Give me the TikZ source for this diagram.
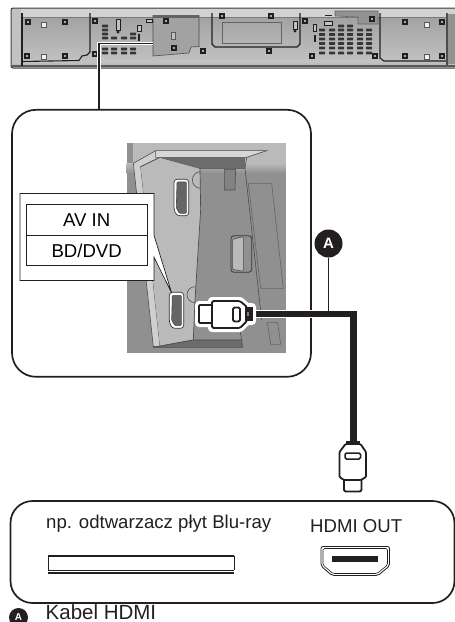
\documentclass[tikz,border=0pt]{standalone}
\usepackage{fontspec}
\setmainfont{Liberation Sans}
\usetikzlibrary{positioning, calc}
\definecolor{barfill}{HTML}{BDBDBD}
\definecolor{barpanel}{HTML}{C2C2C2}
\definecolor{bardark}{HTML}{A2A2A2}
\definecolor{ink}{HTML}{231F20}
\definecolor{photolight}{HTML}{BABABA}
\definecolor{photodark}{HTML}{909090}
\begin{document}
\begin{tikzpicture}[
    x=1pt, y=-1pt,
    frame/.style={rectangle, draw=ink, line width=1.7pt, rounded corners=24pt, fill=white, inner sep=0pt, outer sep=0pt},
    cell/.style={rectangle, draw=ink, line width=0.7pt, fill=white, minimum width=121pt, minimum height=30.4pt, inner sep=0pt, outer sep=0pt, font=\fontsize{18.6pt}{20pt}\selectfont},
    caption/.style={inner sep=0pt, anchor=base west, text=ink, font=\fontsize{18.6pt}{20pt}\selectfont},
    marker/.style={circle, fill=ink, text=white, inner sep=0pt, minimum size=#1, font=\bfseries\fontsize{15pt}{15pt}\selectfont},
    barline/.style={draw=ink, line width=1.1pt},
    screw/.style={draw=ink, line width=1.2pt, fill=gray!65, minimum size=4pt, inner sep=0pt, rectangle},
    whitescrew/.style={draw=ink!75, line width=0.6pt, fill=white!90!gray, minimum size=5.5pt, inner sep=0pt, rectangle},
    vent/.style={rectangle, rounded corners=0.5pt, fill=ink!90, minimum width=6pt, minimum height=2.6pt, inner sep=0pt},
    lead/.style={draw=ink, line width=1.9pt},
    halo/.style={draw=white, line width=3.6pt},
    cable/.style={draw=ink, line width=6.5pt},
    plugbody/.style={draw=ink, line width=1.8pt, fill=white, line join=round},
    plughalo/.style={draw=white, line width=8pt, line join=round}
]
    \useasboundingbox (0,0) rectangle (455,622);
    \clip (0,0) rectangle (455,622);

    % Soundbar
    \node[rectangle, draw=ink!85, line width=1.1pt, rounded corners=2pt, fill=barfill, minimum width=460pt, minimum height=60pt, anchor=north west, inner sep=0pt] (bar) at (10.5,7.5) {};
    \shade[top color=bardark, bottom color=barpanel] (21,17) rectangle (448,62);
    \fill[gray!35] (12,9) rectangle (455,16.5);
    \draw[ink!60, line width=0.4pt] (21,17) -- (455,17);
    \fill[barpanel] (12,9) rectangle (21,64);
    \fill[ink!75] (12,64.5) rectangle (455,67);
    \draw[barline, line width=1.4pt] (22,13) -- (22,66);
    \draw[barline] (90,13) -- (90,52) -- (87,55) -- (82,56) -- (79,60.5) -- (22,61.5);
    \draw[barline] (380,13) -- (380,58) -- (384,61) -- (447,61);
    \draw[ink!80, line width=1.5pt] (447,13) -- (447,65);
    \fill[bardark!90!black] (448,14) rectangle (455,64);
    \draw[ink!80, fill=bardark, line width=0.6pt] (153,15.5) -- (199,15.5) -- (199,46.5) -- (191,47) -- (189,53) -- (153,56) -- cycle;
    \fill[ink!70] (153,15) rectangle (199,18);
    \draw[barline] (212,13) -- (212,44) -- (215,47) -- (297,47) -- (300,44) -- (300,13);
    \draw[ink!70, line width=0.8pt] (222,22) rectangle (281,43);
    \draw[ink!70, fill=bardark!90!black, line width=0.6pt] (335,16) -- (335,11) -- (378,11) -- (378,24) -- (358,24) -- (358,17) -- cycle;
    \foreach \x/\y in {28/22, 65/22, 27/56, 65/56, 95/21, 95/54, 166/21, 174/48, 203/51, 222/16, 271/16, 269/51, 305/21, 312/56, 372/19, 375/56, 405/22, 442/22, 405/56, 442/56}
        \node[screw] (s\x-\y) at (\x,\y) {};
    \foreach \x/\y in {44/25, 44/57, 427/25, 427/57}
        \node[whitescrew] (w\x-\y) at (\x,\y) {};
    \node[whitescrew, minimum width=4pt, minimum height=7pt, fill=barpanel] (midscrew) at (173.5,36) {};
    \foreach \y in {26,30,34,38}
        \node[vent] at (105,\y) {};
    \foreach \x/\y in {114/38, 124/38, 133/38, 133/34, 105/49, 114/49, 124/49, 133/49, 105/53, 114/53, 124/53, 133/53, 341/26, 350/26}
        \node[vent] at (\x,\y) {};
    \foreach \x in {322,332,341,350,360,369}
        \foreach \y in {30,34.5,39,43.5,48,53}
            \node[vent] at (\x,\y) {};
    \draw[ink, line width=0.6pt, fill=barpanel] (116,19) rectangle (120,30);
    \fill[ink] (118,32) circle (1.6pt);
    \draw[ink, line width=0.6pt, fill=barpanel] (137,25) rectangle (141,31);
    \fill[ink] (138,34) rectangle (140,41);
    \draw[ink, line width=0.6pt, fill=barpanel] (293,21) rectangle (297,29);
    \fill[ink] (295,31) circle (1.6pt);
    \draw[ink, line width=0.6pt, fill=barpanel] (313,24) rectangle (316,31);
    \fill[ink] (314,35) rectangle (316,42);
    \draw[ink, line width=0.6pt, fill=barpanel] (146,19) rectangle (152,22);
    \draw[ink, line width=0.6pt, fill=barpanel] (324,21) rectangle (332,25);
    \draw[ink, line width=0.6pt] (325,15) -- (332,15);

    % Enlarged view with the inputs
    \node[frame, minimum width=299pt, minimum height=267pt, anchor=north west] (zoombox) at (12,109.8) {};
    \coordinate (barport) at (153,43.5);
    \coordinate (tap) at (99,43.5);
    \draw[halo] (barport) -- (tap) -- (tap |- bar.south);
    \draw[lead] (barport) -- (tap) -- (tap |- zoombox.north);

    \node[rectangle, fill=photodark, minimum width=159pt, minimum height=210pt, anchor=north west, inner sep=0pt] (photo) at (127,143) {};
    \begin{scope}[shift={(110,120)}, x=0.3333pt, y=-0.3333pt]
        \shade[top color=photolight, bottom color=photodark] (50,130) rectangle (528,160);
        \fill[photolight] (50,68) rectangle (528,130);
        \fill[photodark] (50,68) rectangle (70,130);
        \draw[ink!80, fill=photolight!70!white, line width=0.6pt] (70,130) -- (137,92) -- (150,112) -- (92,140) -- (150,680) -- (130,680) -- cycle;
        \fill[photolight] (92,140) -- (150,112) -- (270,145) -- (272,270) -- (255,540) -- (250,660) -- (150,680) -- cycle;
        \draw[ink!80, line width=0.7pt] (92,140) -- (150,112) -- (270,145) -- (272,270) -- (255,540) -- (250,660) -- (130,682);
        \fill[photodark!75!black] (270,145) -- (150,112) -- (405,112) -- (405,145) -- cycle;
        \draw[ink!80, fill=photolight!60!white, line width=0.6pt] (137,92) -- (470,92) -- (410,112) -- (137,112) -- cycle;
        \draw[ink!80, line width=0.6pt] (410,112) -- (405,145) -- (270,145);
        \draw[ink!80, line width=0.6pt] (405,145) -- (455,600);
        \draw[ink!80, fill=photodark!75!black, line width=0.6pt] (130,682) -- (250,660) -- (395,660) -- (398,682) -- cycle;
        \draw[ink!80, line width=0.6pt] (395,660) -- (388,620);
        \draw[ink!80, fill=photodark!90!black, line width=0.6pt] (343,148) -- (377,148) -- (375,210) -- (343,210) -- cycle;
        \draw[ink!70, line width=0.6pt] (415,190) -- (485,190) -- (520,505) -- (452,505) -- cycle;
        \draw[ink!70, line width=0.6pt] (472,607) -- (503,607) -- (512,673) -- (482,673) -- cycle;
        \draw[ink!80, line width=0.6pt] (272,205) arc[start angle=90, end angle=270, radius=25];
        \draw[ink!80, line width=0.6pt] (255,548) arc[start angle=90, end angle=270, radius=24];
        % Ports
        \draw[ink!90, fill=white, line width=0.7pt, rounded corners=3pt] (192,178) -- (236,178) -- (236,287) -- (200,287) -- (192,270) -- cycle;
        \draw[ink!80, fill=photodark!70!black, line width=0.6pt, rounded corners=1pt] (201,186) -- (229,186) -- (229,280) -- (208,280) -- (199,264) -- cycle;
        \draw[ink!90, fill=white, line width=0.7pt, rounded corners=3pt] (178,517) -- (221,517) -- (221,625) -- (186,625) -- (178,608) -- cycle;
        \draw[ink!80, fill=photodark!70!black, line width=0.6pt, rounded corners=1pt] (187,526) -- (214,526) -- (214,617) -- (195,617) -- (185,601) -- cycle;
        \draw[ink!90, fill=photodark, line width=0.8pt, rounded corners=3pt] (363,347) -- (425,347) -- (425,457) -- (363,457) -- cycle;
        \draw[ink!80, fill=photolight, line width=0.6pt, rounded corners=1pt] (368,358) -- (400,350) -- (400,454) -- (368,448) -- cycle;
    \end{scope}

    % Labels
    \node[rectangle, fill=white, minimum width=133.5pt, minimum height=86.5pt, anchor=north west, inner sep=0pt] (labelbox) at (20,193.5) {};
    \coordinate (pointertop) at (labelbox.east |- 0,235);
    \coordinate (pointerlow) at (labelbox.east |- 0,257);
    \coordinate (lowerport) at (171.7,293);
    \fill[white] (pointertop) -- (lowerport) -- (pointerlow) -- cycle;
    \draw[ink, line width=0.7pt] (pointertop) -- (labelbox.north east) -- (labelbox.north west) -- (labelbox.south west) -- (labelbox.south east) -- (pointerlow) -- (lowerport) -- (pointertop);
    \node[cell] (avin) at (86.7,220) {AV IN};
    \node[cell, below=0pt of avin] (bddvd) {BD/DVD};

    % HDMI lead, with its plugs
    \node[marker=28pt] (markA) at (328.5,243.5) {A};
    \coordinate (bend) at (353.5,314);
    \coordinate (vneck) at (353.5,443);
    \coordinate (hneck) at (247,314);
    \draw[draw=white, line width=8.5pt] (hneck) -- (bend) -- (vneck);
    \draw[cable] (hneck) -- (bend) -- (vneck);
    \draw[ink, line width=0.8pt] (markA) -- (markA |- bend);
    % Horizontal plug
    \draw[plughalo] (199,305) -- (211,305) -- (212,301) -- (240,301) -- (247,307) -- (252,307) -- (252,321) -- (247,321) -- (240,328) -- (212,328) -- (211,323) -- (199,323) -- cycle;
    \draw[plugbody, rounded corners=1pt] (211,305) -- (199,305) -- (199,323) -- (211,323);
    \draw[plugbody, rounded corners=1.5pt] (212,301) -- (240,301) -- (247,307) -- (247,321) -- (240,328) -- (212,328) -- cycle;
    \draw[plugbody, rounded corners=1.5pt] (233,307.5) rectangle (240,321.5);
    \fill[ink] (245,307) rectangle (253,321);
    \fill[gray] (246.5,312) rectangle (249,316);
    % Vertical plug
    \draw[plugbody, rounded corners=1.5pt] (344,480) -- (344,491.5) -- (361.5,491.5) -- (361.5,480);
    \node[rectangle, fill=ink, minimum width=14pt, minimum height=4pt, inner sep=0pt] (vtop) at (353,443) {};
    \draw[plugbody, rounded corners=1pt] (345.5,444) -- (360.5,444) -- (366,452) -- (366,477) -- (361,480) -- (344,480) -- (339.5,477) -- (339.5,452) -- cycle;
    \draw[ink, line width=1.5pt, rounded corners=1.5pt] (345,453) rectangle (360.5,459);

    % Source device
    \node[frame, rounded corners=22pt, minimum width=444pt, minimum height=102pt, anchor=north west] (player) at (10.5,501) {};
    \node[caption] (playername) at (46,528) {np. odtwarzacz płyt Blu-ray};
    \node[caption] (hdmiout) at (310,532) {HDMI OUT};
    \node[rectangle, fill=white, minimum width=186pt, minimum height=14pt, inner sep=0pt, anchor=north west] (tray) at (48,555.5) {};
    \draw[ink, line width=0.8pt] (tray.north west) -- (tray.south west);
    \draw[ink, line width=0.8pt] (tray.north east) -- (tray.south east);
    \draw[ink, line width=2pt] (tray.north west) -- (tray.north east);
    \draw[ink, line width=0.8pt] (tray.south west) -- (tray.south east);
    \draw[ink, line width=2.2pt] (48,573) -- (234,573);
    \draw[ink, line width=0.8pt, rounded corners=2pt, fill=white] (321,546.5) -- (389.5,546.5) -- (389.5,566) -- (378,575.5) -- (332,575.5) -- (321,566) -- cycle;
    \draw[ink, line width=0.6pt, rounded corners=1.5pt] (323,548.5) -- (387.5,548.5) -- (387.5,565) -- (377,573.5) -- (333,573.5) -- (323,565) -- cycle;
    \node[rectangle, fill=ink, minimum width=46pt, minimum height=6.5pt, inner sep=0pt] (hdmislot) at (355,559) {};

    % Legend
    \node[marker=19pt, font=\bfseries\fontsize{10pt}{10pt}\selectfont] (legendA) at (18.5,617.5) {A};
    \node[caption, font=\fontsize{20.5pt}{20.5pt}\selectfont] (legendtext) at (45.5,619) {Kabel HDMI};
\end{tikzpicture}
\end{document}
